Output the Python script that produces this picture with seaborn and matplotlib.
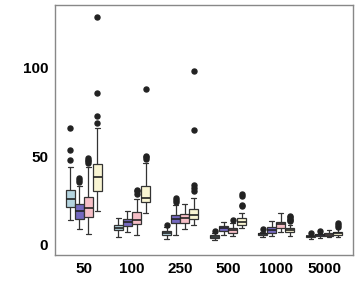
import matplotlib
matplotlib.use("Agg")
import matplotlib.pyplot as plt
import seaborn as sns
import numpy as np
import pandas as pd

# x categories and hue groups
sizes = ["50", "100", "250", "500", "1000", "5000"]
groups = ["A", "B", "C", "D"]
colors = ["#ADD8E6", "#6A5ACD", "#FFB6C1", "#FFFACD"]

# box summaries: rows = sizes, columns = groups
# each entry: (whisker low, q1, median, q3, whisker high)
box_50 = [(13.8, 21.0, 25.8, 31.0, 43.6), (9.0, 14.5, 19.0, 22.6, 33.2),
          (5.8, 15.5, 20.6, 27.0, 44.0), (18.9, 30.5, 38.0, 45.5, 66.0)]
box_100 = [(4.3, 8.1, 9.4, 10.9, 14.7), (7.1, 10.4, 12.5, 14.5, 18.9),
           (5.3, 11.3, 13.8, 18.1, 25.5), (17.5, 23.8, 26.0, 33.2, 46.0)]
box_250 = [(3.2, 5.5, 6.6, 7.5, 9.6), (5.3, 11.9, 14.2, 16.4, 22.3),
           (8.5, 12.2, 14.7, 17.3, 22.7), (10.9, 14.3, 16.7, 19.8, 26.0)]
box_500 = [(2.4, 3.7, 4.4, 5.1, 6.2), (5.3, 7.7, 9.1, 10.4, 12.8),
           (5.0, 6.6, 7.9, 9.1, 11.9), (9.1, 10.9, 12.8, 14.7, 17.5)]
box_1000 = [(4.3, 5.3, 5.8, 6.2, 7.3), (4.7, 6.2, 8.1, 9.6, 13.2),
            (7.1, 9.1, 11.3, 12.6, 17.5), (4.6, 7.0, 8.2, 9.3, 11.2)]
box_5000 = [(3.3, 4.0, 4.5, 5.0, 5.8), (3.8, 4.7, 5.2, 5.7, 6.6),
            (4.0, 5.0, 5.6, 6.2, 7.0), (4.3, 5.3, 6.2, 7.1, 9.5)]

# outliers per size, per group
out_50 = [[48.0, 53.4, 65.7], [35.5, 36.5, 37.5], [46.0, 47.0, 48.0, 49.0],
          [69.0, 72.5, 86.0, 129.0]]
out_100 = [[], [], [28.7, 30.0, 31.0], [48.5, 49.5, 50.0, 88.0]]
out_250 = [[11.0], [24.0, 25.0, 26.5], [], [30.5, 32.0, 33.5, 65.0, 98.0]]
out_500 = [[7.7], [], [13.8], [21.5, 22.5, 27.5, 28.5]]
out_1000 = [[8.5], [], [], [13.0, 13.8, 14.5, 15.3, 16.0]]
out_5000 = [[6.6], [7.7], [7.9], [10.0, 11.0, 12.0]]

boxes = [box_50, box_100, box_250, box_500, box_1000, box_5000]
outliers = [out_50, out_100, out_250, out_500, out_1000, out_5000]

# rebuild samples that reproduce each summary (repeat the five numbers)
rows = []
for size, bx, ol in zip(sizes, boxes, outliers):
    for g, stats, extra in zip(groups, bx, ol):
        vals = list(np.repeat(stats, 30)) + list(extra)
        rows += [(size, g, v) for v in vals]
df = pd.DataFrame(rows, columns=["size", "group", "value"])

sns.set_style("white")
plt.rcParams["font.family"] = ["Liberation Sans", "DejaVu Sans"]

fig = plt.figure(figsize=(3.6, 3.0), dpi=100)
ax = fig.add_axes([0.153, 0.15, 0.828, 0.833])

sns.boxplot(data=df, x="size", y="value", hue="group", order=sizes,
            hue_order=groups, palette=colors, width=0.75, gap=0.0,
            linewidth=0.9, linecolor="#333333", whis=1.5,
            flierprops=dict(marker="o", markersize=3.6,
                            markerfacecolor="#222222",
                            markeredgecolor="#222222"),
            medianprops=dict(color="#222222", linewidth=1.2),
            legend=False, ax=ax)

ax.set_xlim(-0.6, 5.6)
ax.set_ylim(-6, 135.5)
ax.set_yticks([0, 50, 100])
ax.set_xlabel("")
ax.set_ylabel("")
for s in ax.spines.values():
    s.set_color("#888888")
    s.set_linewidth(1.0)
ax.tick_params(axis="both", length=3, width=0.8, color="#555555",
               labelsize=11, labelcolor="black", pad=2)
for lab in ax.get_xticklabels() + ax.get_yticklabels():
    lab.set_fontweight("bold")

fig.savefig("out.png", dpi=100)
